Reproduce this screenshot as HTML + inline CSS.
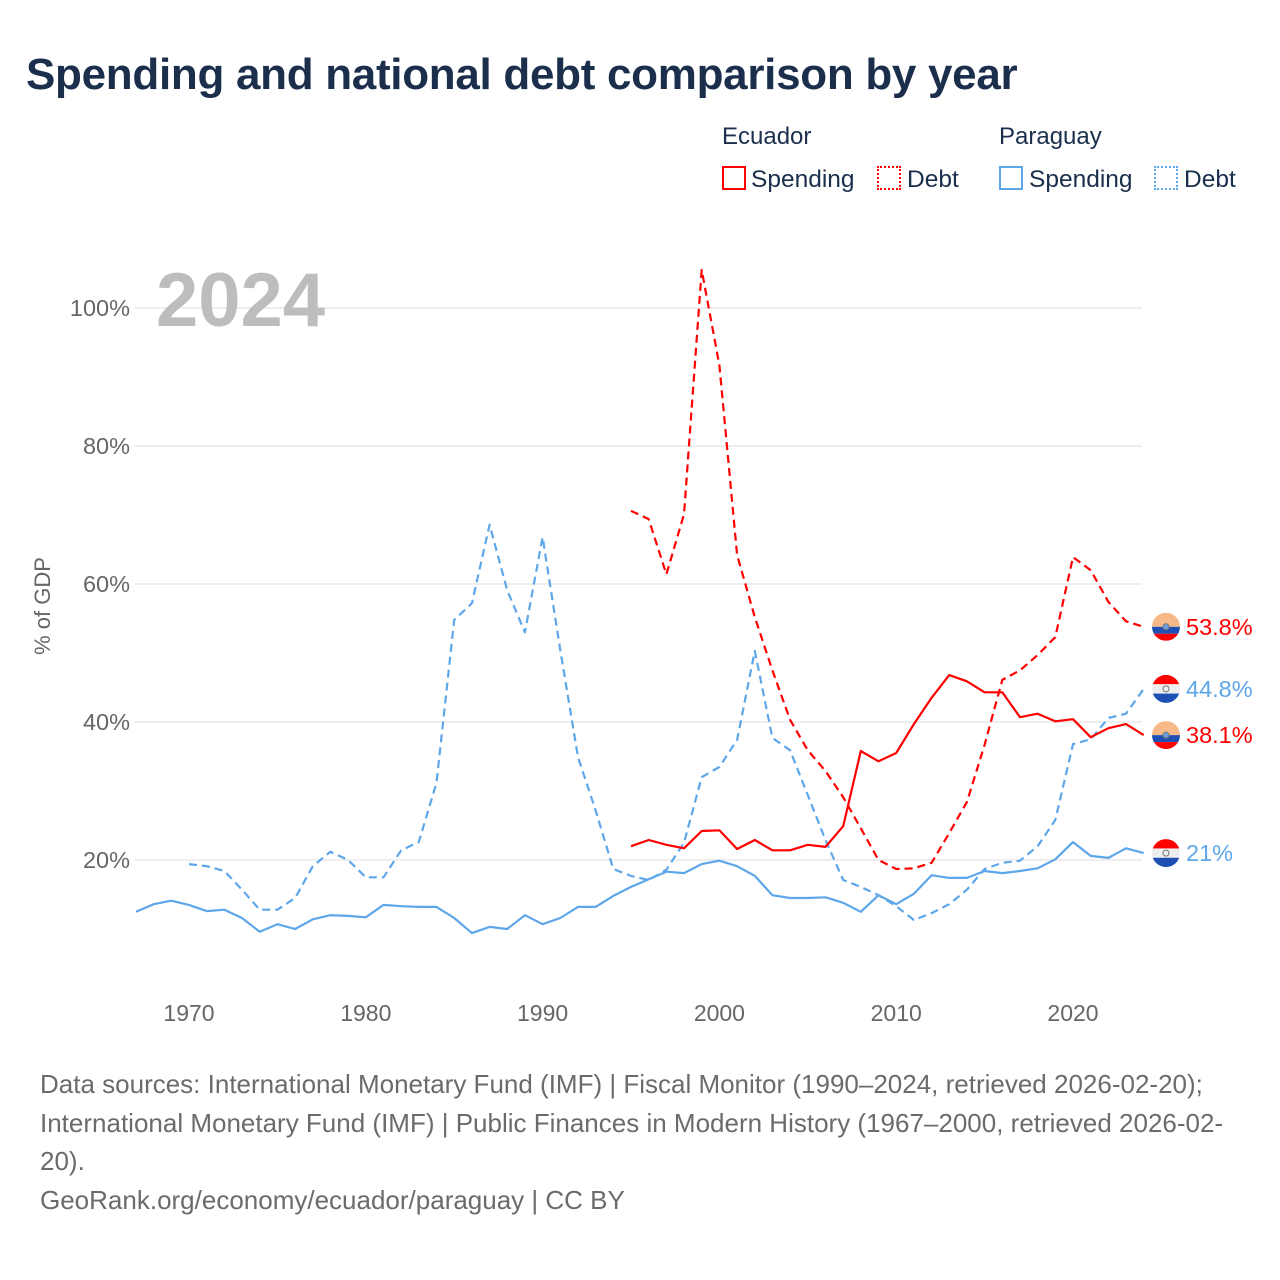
<!DOCTYPE html>
<html><head><meta charset="utf-8">
<style>
html,body{margin:0;padding:0;background:#fff;width:1280px;height:1280px;overflow:hidden;font-family:"Liberation Sans",sans-serif;}
#root{position:relative;width:1280px;height:1280px;}
.t{position:absolute;white-space:nowrap;}
</style></head>
<body><div id="root">
<div class="t" style="left:26px;top:50px;font-size:44px;font-weight:bold;color:#1b2f4d;letter-spacing:-0.3px;">Spending and national debt comparison by year</div>
<div class="t" style="left:722px;top:123px;font-size:24px;color:#1b2f4d;">Ecuador</div>
<div class="t" style="left:999px;top:123px;font-size:24px;color:#1b2f4d;">Paraguay</div>
<div class="t" style="left:722px;top:166px;font-size:24.5px;color:#1b2f4d;"><span style="display:inline-block;width:24px;height:24px;border:2px solid #f00;box-sizing:border-box;vertical-align:-3px;margin-right:5px;"></span>Spending</div>
<div class="t" style="left:877px;top:166px;font-size:24.5px;color:#1b2f4d;"><span style="display:inline-block;width:24px;height:24px;border:2px dotted #f00;box-sizing:border-box;vertical-align:-3px;margin-right:6px;"></span>Debt</div>
<div class="t" style="left:999px;top:166px;font-size:24.5px;color:#1b2f4d;"><span style="display:inline-block;width:24px;height:24px;border:2px solid #5ea6ea;box-sizing:border-box;vertical-align:-3px;margin-right:6px;"></span>Spending</div>
<div class="t" style="left:1154px;top:166px;font-size:24.5px;color:#1b2f4d;"><span style="display:inline-block;width:24px;height:24px;border:2px dotted #5ea6ea;box-sizing:border-box;vertical-align:-3px;margin-right:6px;"></span>Debt</div>
<svg id="chart" width="1280" height="1280" style="position:absolute;left:0;top:0;pointer-events:none" xmlns="http://www.w3.org/2000/svg"></svg>
<div class="t" style="left:40px;top:1069px;font-size:26px;color:#6b6b6b;">Data sources: International Monetary Fund (IMF) | Fiscal Monitor (1990–2024, retrieved 2026-02-20);</div>
<div class="t" style="left:40px;top:1108px;font-size:26px;color:#6b6b6b;">International Monetary Fund (IMF) | Public Finances in Modern History (1967–2000, retrieved 2026-02-</div>
<div class="t" style="left:40px;top:1146px;font-size:26px;color:#6b6b6b;">20).</div>
<div class="t" style="left:40px;top:1185px;font-size:26px;color:#6b6b6b;">GeoRank.org/economy/ecuador/paraguay | CC BY</div>
</div>
<script>
const yTicks=[20,40,60,80,100];
const xTicks=[1970,1980,1990,2000,2010,2020];
const pySpendStart=1967;
const pySpending=[12.5,13.6,14.1,13.5,12.6,12.8,11.6,9.6,10.7,10.0,11.4,12.0,11.9,11.7,13.5,13.3,13.2,13.2,11.6,9.4,10.3,10.0,12.0,10.7,11.6,13.2,13.2,14.8,16.1,17.2,18.3,18.1,19.4,19.9,19.1,17.7,14.9,14.5,14.5,14.6,13.8,12.5,14.9,13.6,15.1,17.8,17.4,17.4,18.4,18.1,18.4,18.8,20.1,22.6,20.6,20.3,21.7,21.0];
const pyDebtStart=1970;
const pyDebt=[19.4,19.1,18.4,15.7,12.8,12.8,14.5,19.1,21.2,20.0,17.5,17.5,21.4,22.6,31.2,54.8,57.2,68.6,59.1,53.0,66.8,50.4,34.9,27.2,18.7,17.7,17.1,18.6,22.5,32.0,33.5,37.4,50.3,37.7,35.9,29.4,22.9,17.1,16.1,14.9,13.3,11.3,12.3,13.6,15.7,18.7,19.6,19.9,22.0,25.8,36.8,37.5,40.6,41.2,44.8];
const ecStart=1995;
const ecSpending=[22.0,22.9,22.2,21.7,24.2,24.3,21.6,22.9,21.4,21.4,22.2,21.9,24.9,35.8,34.3,35.5,39.7,43.5,46.8,45.9,44.3,44.3,40.7,41.2,40.1,40.4,37.8,39.1,39.7,38.1];
const ecDebt=[70.6,69.4,61.4,70.1,105.5,91.7,64.2,55.2,47.5,40.3,35.9,32.9,29.1,24.6,20.0,18.7,18.8,19.6,23.9,28.4,36.7,46.1,47.5,49.7,52.3,63.9,62.0,57.4,54.6,53.8];

const NS="http://www.w3.org/2000/svg";
const svg=document.getElementById('chart');
const X=y=>189+(y-1970)*17.68;
const Y=v=>998-v*6.9;
function el(t,a){const e=document.createElementNS(NS,t);for(const k in a)e.setAttribute(k,a[k]);svg.appendChild(e);return e;}

yTicks.forEach(v=>{
  const g=el('line',{x1:135,x2:1142,y1:Y(v),y2:Y(v),stroke:'#e8e8e8','stroke-width':1.5});
  
  
  const t=el('text',{x:130,y:Y(v)+8,'text-anchor':'end','font-size':23.5,fill:'#666','font-family':'Liberation Sans, sans-serif'});
  t.textContent=v+'%';
  
  
});
xTicks.forEach(v=>{
  const t=el('text',{x:X(v),y:1021,'text-anchor':'middle','font-size':23,fill:'#666','font-family':'Liberation Sans, sans-serif'});
  t.textContent=v;
  
  
});
const yt=el('text',{x:0,y:0,transform:'translate(50,606) rotate(-90)','text-anchor':'middle','font-size':22,fill:'#666','font-family':'Liberation Sans, sans-serif'});
yt.textContent='% of GDP';


const yr=el('text',{x:156,y:326,'font-size':76,'font-weight':'bold',fill:'#bdbdbd','font-family':'Liberation Sans, sans-serif'});
yr.textContent='2024';



function series(arr,start,color,dash,name){
  const d=arr.map((v,i)=>(i?'L':'M')+X(start+i).toFixed(1)+','+Y(v).toFixed(1)).join('');
  const p=el('path',{d:d,fill:'none',stroke:color,'stroke-width':2.2,'stroke-dasharray':dash?'8 5':'none','stroke-linejoin':'round'});
  
  
}
series(pySpending,pySpendStart,'#5ea6ea',false,'paraguay-spending-line');
series(pyDebt,pyDebtStart,'#5ea6ea',true,'paraguay-debt-line');
series(ecSpending,ecStart,'#f00',false,'ecuador-spending-line');
series(ecDebt,ecStart,'#f00',true,'ecuador-debt-line');

function endLabel(arr,color,country,name){
  const v=arr[arr.length-1], cy=Y(v), cx=1166;
  const g=document.createElementNS(NS,'g');svg.appendChild(g);
  
  
  const add=(t,a)=>{const e=document.createElementNS(NS,t);for(const k in a)e.setAttribute(k,a[k]);g.appendChild(e);return e;};
  const id='c'+name;
  const cp=add('clipPath',{id:id});const c=document.createElementNS(NS,'circle');c.setAttribute('cx',cx);c.setAttribute('cy',cy);c.setAttribute('r',14);cp.appendChild(c);
  const cols=country==='ec'?['#f7b988','#1e50b4','#f00']:['#f00','#eee','#1e50b4'];
  [0,1,2].forEach(i=>add('rect',{x:cx-14,y:cy-14+(country==='ec'?[0,14,21][i]:i*9.34),width:28,height:country==='ec'?[14,7,7][i]:9.4,fill:cols[i],'clip-path':'url(#'+id+')'}));
  add('circle',{cx:cx,cy:cy,r:3,fill:country==='ec'?'#6aa0dd':'none',stroke:'#777','stroke-width':1});
  const t=el('text',{x:1186,y:cy+8,'font-size':23.5,fill:color,'font-family':'Liberation Sans, sans-serif'});
  t.textContent=(Math.round(v*10)/10)+'%';
  
  
}
endLabel(ecDebt,'#f00','ec','ecuador-debt');
endLabel(pyDebt,'#5ea6ea','py','paraguay-debt');
endLabel(ecSpending,'#f00','ec','ecuador-spending');
endLabel(pySpending,'#5ea6ea','py','paraguay-spending');
</script>
</body></html>
